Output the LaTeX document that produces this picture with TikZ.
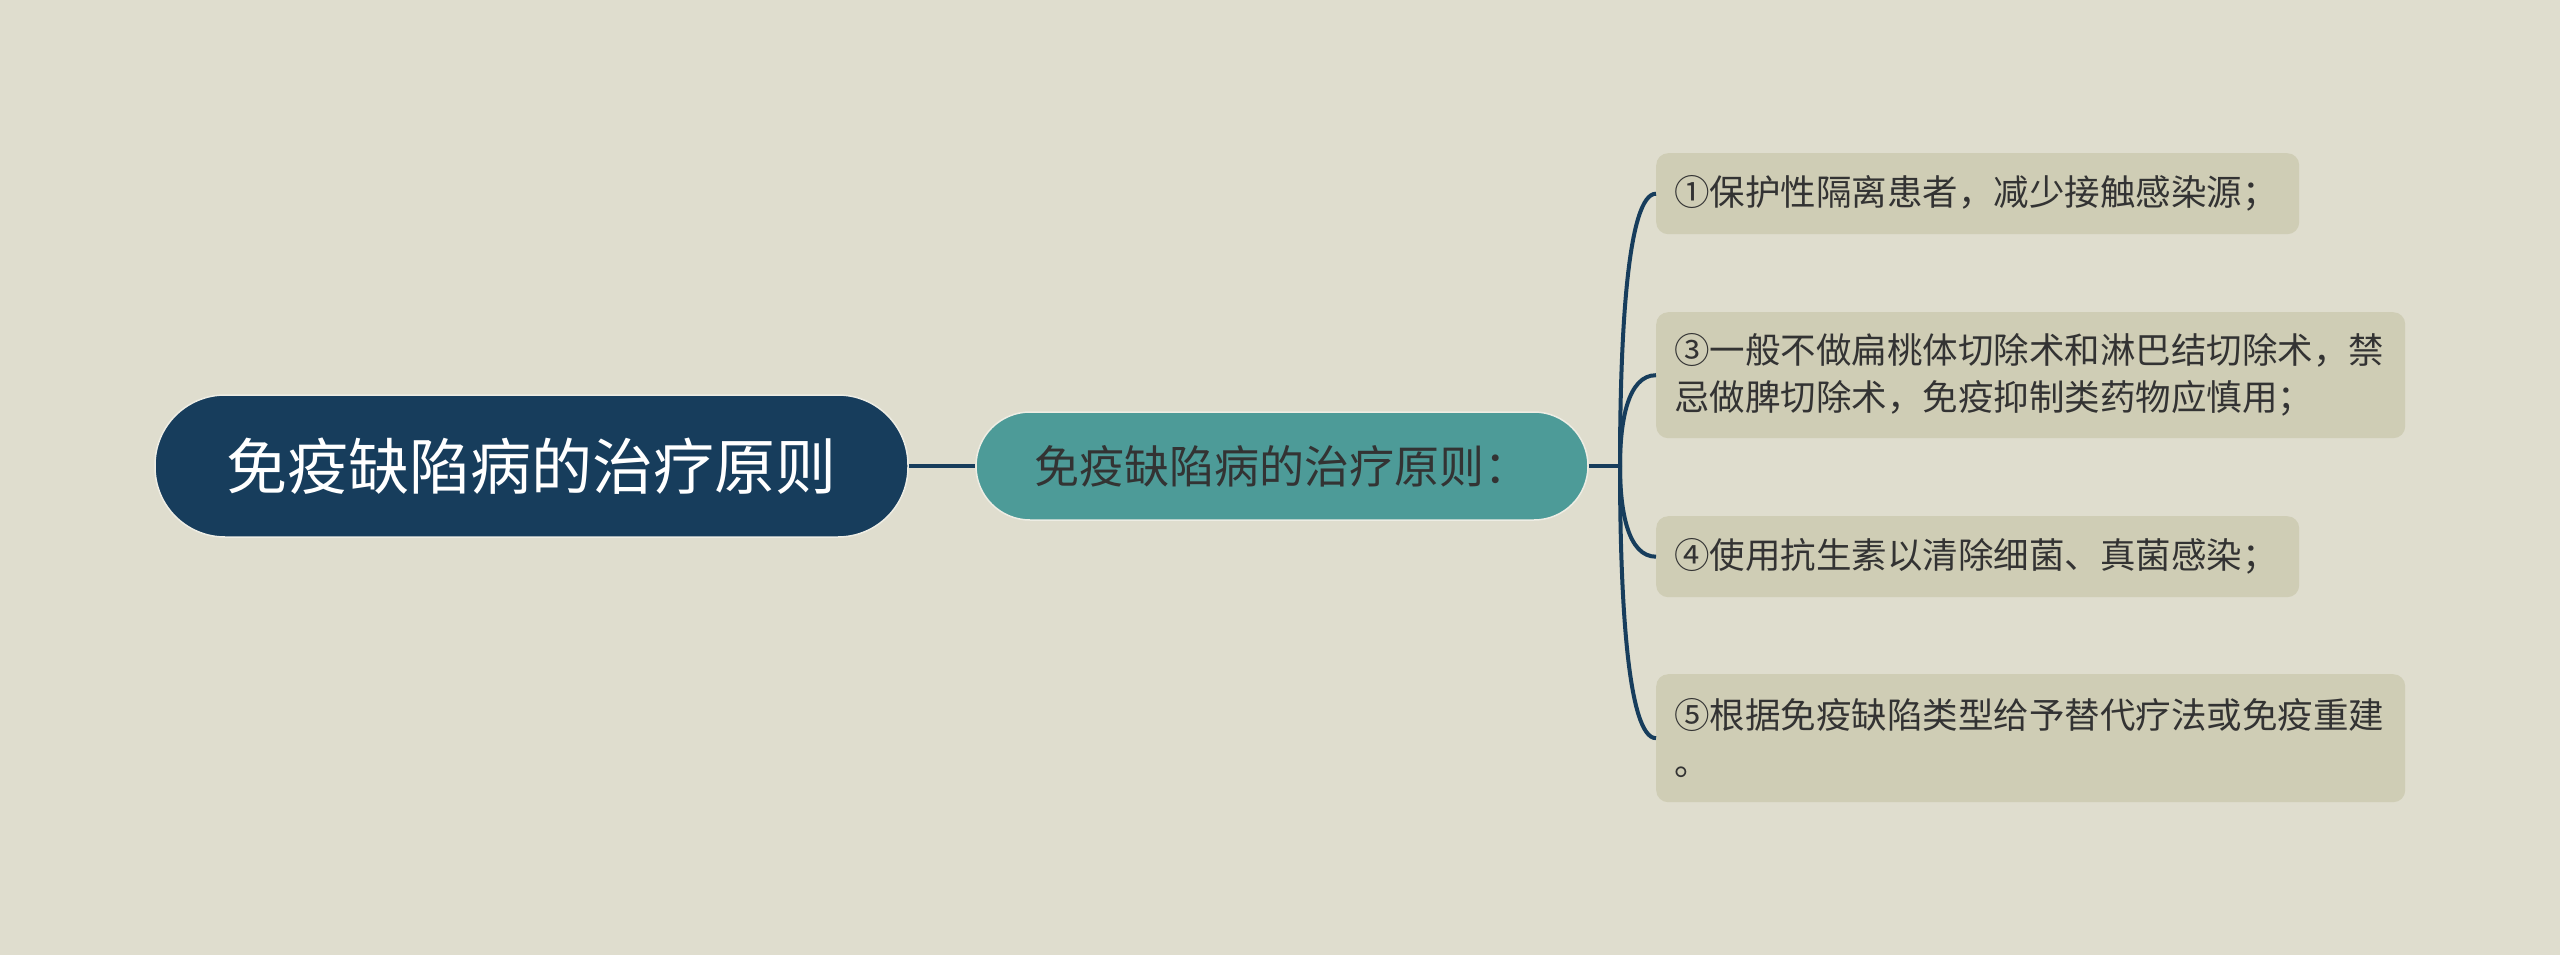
\documentclass[tikz,border=0pt]{standalone}
\usepackage{fontspec}
\setmainfont{Noto Sans CJK SC}
\usetikzlibrary{calc}
\definecolor{bgc}{HTML}{DFDDCE}
\definecolor{rootc}{HTML}{173D5C}
\definecolor{mainc}{HTML}{4D9B98}
\definecolor{leafc}{HTML}{CFCDB5}
\definecolor{linec}{HTML}{173D5C}
\definecolor{txtc}{HTML}{333333}
\definecolor{rimc}{HTML}{EEEDE4}
\begin{document}
\begin{tikzpicture}[x=1pt,y=-1pt,
  rootbox/.style={fill=rootc, draw=rimc, line width=1.5, rounded corners=70, text=white,
    minimum width=753, minimum height=142, inner sep=0,
    font=\fontsize{61}{70}\selectfont},
  mainbox/.style={fill=mainc, draw=rimc, line width=1.5, rounded corners=54, text=txtc,
    minimum width=612, minimum height=108, inner sep=0,
    font=\fontsize{45}{54}\selectfont},
  leafbox/.style={fill=leafc, rounded corners=12, text=txtc, anchor=north west,
    inner xsep=18, inner ysep=0, align=left,
    font=\fontsize{35.5}{47}\selectfont},
  conn/.style={draw=linec, line width=4}
]
\useasboundingbox (0,0) rectangle (2560,955);
\fill[bgc] (0,0) rectangle (2560,955);

\node[rootbox] (root) at (531.5,466) {免疫缺陷病的治疗原则};
\node[mainbox] (main) at (1282,466) {免疫缺陷病的治疗原则：};

\node[leafbox, text width=607, minimum height=81] (l1) at (1656,153)
  {①保护性隔离患者，减少接触感染源；};
\node[leafbox, text width=713, minimum height=126] (l2) at (1656,312)
  {③一般不做扁桃体切除术和淋巴结切除术，禁\\忌做脾切除术，免疫抑制类药物应慎用；};
\node[leafbox, text width=607, minimum height=81] (l3) at (1656,516)
  {④使用抗生素以清除细菌、真菌感染；};
\node[leafbox, text width=713, minimum height=128] (l4) at (1656,674)
  {⑤根据免疫缺陷类型给予替代疗法或免疫重建\\。};

\coordinate (j) at (1620,466);
\draw[conn] (root.east) -- (main.west);
\draw[conn] (main.east) -- (j);
\foreach \l in {l1,l2,l3,l4}{
  \draw[conn] (j) .. controls ($(j)!0.5!(j|-\l.west)$) and ($(j|-\l.west)+(8,0)$) .. (\l.west);
}
\end{tikzpicture}
\end{document}
